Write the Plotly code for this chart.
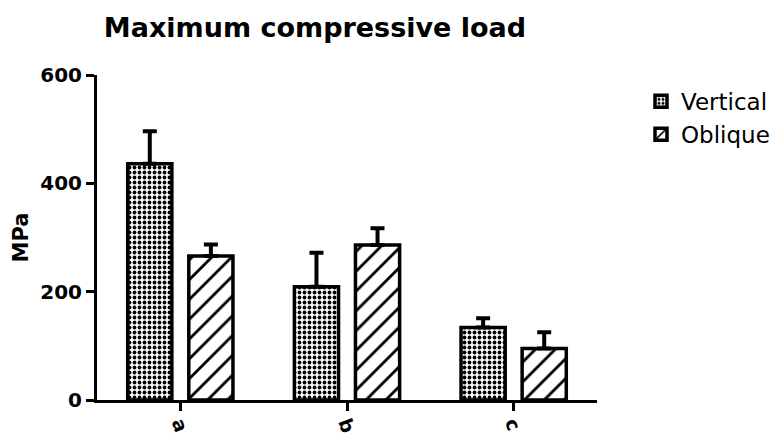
import plotly.graph_objects as go

categories = ["a", "b", "c"]
vertical_vals = [436, 209, 134]
vertical_err = [60, 63, 17]
oblique_vals = [266, 286, 95]
oblique_err = [21, 31, 30]
y_ticks = [0, 200, 400, 600]

FONT = "DejaVu Sans"

fig = go.Figure()
fig.add_trace(go.Bar(
    name="Vertical", x=categories, y=vertical_vals,
    marker=dict(color="white", line=dict(color="black", width=3.5),
                pattern=dict(shape=".", size=5, solidity=0.45, fgcolor="black", bgcolor="white", fillmode="replace")),
    error_y=dict(type="data", array=vertical_err, arrayminus=[0]*len(vertical_err), symmetric=False,
                 color="black", thickness=4, width=7),
))
fig.add_trace(go.Bar(
    name="Oblique", x=categories, y=oblique_vals,
    marker=dict(color="white", line=dict(color="black", width=3.5),
                pattern=dict(shape="/", size=14, solidity=0.2, fgcolor="black", bgcolor="white", fillmode="replace")),
    error_y=dict(type="data", array=oblique_err, arrayminus=[0]*len(oblique_err), symmetric=False,
                 color="black", thickness=4, width=7),
))

fig.update_layout(
    width=771, height=440,
    margin=dict(l=97, r=174, t=75, b=40, autoexpand=False),
    plot_bgcolor="white", paper_bgcolor="white",
    barmode="group", bargap=0.267, bargroupgap=0.277,
    font=dict(family=FONT, color="black"),
    title=dict(text="Maximum compressive load", x=315/771, xref="container", xanchor="center",
               y=1-28/440, yref="container", yanchor="middle",
               font=dict(family=FONT, size=27, weight="bold", color="black")),
    legend=dict(x=1.088, y=0.985, xanchor="left", yanchor="top",
                font=dict(family=FONT, size=23, color="black"),
                tracegroupgap=2, itemwidth=30, bgcolor="rgba(0,0,0,0)"),
    showlegend=True,
)
fig.update_xaxes(
    range=[-0.5, 2.5], showline=True, linecolor="black", linewidth=3,
    ticks="outside", ticklen=8, tickwidth=3, tickcolor="black",
    showgrid=False, zeroline=False, tickangle=70, ticklabelstandoff=-6, automargin=False,
    tickfont=dict(family=FONT, size=19, weight="bold", color="black"),
)
fig.update_yaxes(
    range=[0, 600], tickvals=y_ticks, showline=True, linecolor="black", linewidth=3,
    ticks="outside", ticklen=8, tickwidth=3, tickcolor="black",
    showgrid=False, zeroline=False, automargin=False,
    tickfont=dict(family=FONT, size=20, weight="bold", color="black"),
    title=dict(text="MPa", standoff=6, font=dict(family=FONT, size=21, weight="bold", color="black")),
)

fig.write_html("out.html")
